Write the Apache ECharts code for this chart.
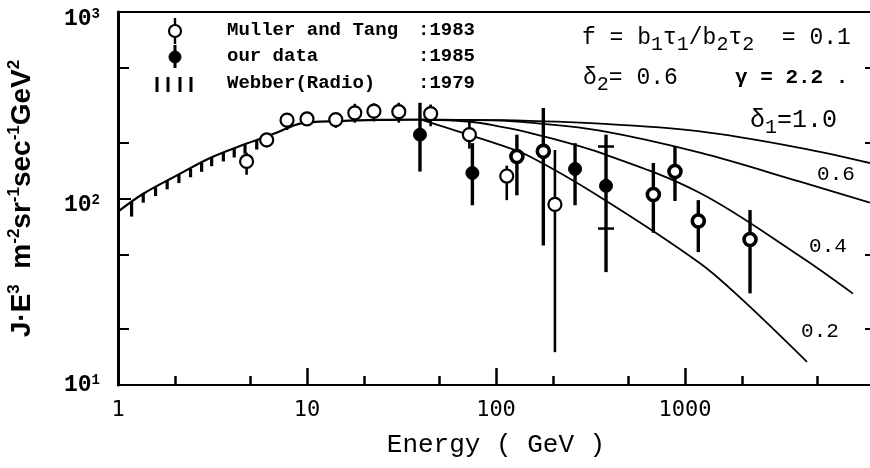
<!DOCTYPE html>
<html><head><meta charset="utf-8">
<script src="https://cdn.jsdelivr.net/npm/echarts@6/dist/echarts.min.js"></script>
<style>html,body{margin:0;padding:0;background:#fff}#c{width:870px;height:468px}</style>
</head><body><div id="c"></div>
<script>
// ---- axis ticks ----
const xMajor = [1, 10, 100, 1000, 10000];
const xMinor = [2, 5, 20, 50, 200, 500, 2000, 5000];
const xTickLabels = ['1', '10', '100', '1000', ''];
const yMajor = [10, 100, 1000];
const yMinor = [20, 50, 200, 500];
const yTickExp = ['1', '2', '3'];

// ---- model curves ----
const baseX = [1.0, 1.36, 2.05, 3.07, 4.6, 6.9, 9.2, 15, 24, 40];
const baseY = [85, 106, 133, 165, 194, 225, 252, 260, 264, 265];
const d10X = [40, 105, 355, 1200, 4060, 9520];
const d10Y = [265, 263, 252, 229, 187, 155];
const d06X = [40, 105, 151, 355, 1200, 4060, 9520];
const d06Y = [265, 262, 255, 231, 176, 123, 95];
const d04X = [40, 73, 105, 151, 355, 1200, 4060, 7740];
const d04Y = [265, 258, 243, 225, 176, 107, 49, 30.9];
const d02X = [40, 45, 105, 151, 355, 1200, 2030, 4420];
const d02Y = [265, 255, 194, 168, 102, 45, 28.4, 13.3];

// ---- Webber (Radio) 1979 hatch ----
const hatchX = [1.18, 1.36, 1.58, 1.82, 2.10, 2.42, 2.77, 3.13, 3.61, 4.12, 4.70, 5.42];
const hatchTop = [96, 106, 115, 125, 135, 145, 155, 166, 176, 185, 194, 204];
const hatchBottom = [80, 95, 103, 112, 121, 130, 139, 149, 158, 166, 174, 183];

// ---- Muller and Tang 1983 ----
const mullerX = [4.79, 6.12, 7.84, 10.0, 14.2, 17.9, 22.6, 30.6, 45.1, 72.3, 114, 205];
const mullerY = [158, 206, 263, 267, 265, 288, 294, 292, 285, 220, 132, 93];
const mullerLo = [134, 188, 233, 249, 239, 255, 259, 255, 244, 185, 98, 15];
const mullerHi = [176, 219, 280, 288, 287, 322, 324, 326, 319, 259, 150, 182];

// ---- our data 1985 ----
const ourSolidX = [39.6, 75, 262, 382];
const ourSolidY = [220, 137, 144, 117];
const ourSolidLo = [139.5, 92, 92, 40.3];
const ourSolidHi = [326, 198, 198, 220];
const ourRingX = [129, 178, 680, 885, 1176, 2208];
const ourRingY = [168, 179, 105, 139.5, 75.7, 60.3];
const ourRingLo = [104, 56, 65.5, 97, 51.6, 31];
const ourRingHi = [220, 306, 155, 190, 98, 86.7];
const capX = [382, 382];
const capY = [190, 69];

const zip2 = (a, b) => a.map((v, i) => [v, b[i]]);
const zip3 = (a, b, c) => a.map((v, i) => [v, b[i], c[i]]);

function vbar(width) {
  return function (params, api) {
    const p1 = api.coord([api.value(0), api.value(1)]);
    const p2 = api.coord([api.value(0), api.value(2)]);
    return { type: 'line', shape: { x1: p1[0], y1: p1[1], x2: p2[0], y2: p2[1] },
      style: { stroke: '#000', lineWidth: width } };
  };
}
function hcap(params, api) {
  const p = api.coord([api.value(0), api.value(1)]);
  return { type: 'line', shape: { x1: p[0] - 8, y1: p[1], x2: p[0] + 8, y2: p[1] },
    style: { stroke: '#000', lineWidth: 2.5 } };
}

const BLACK = '#000';
const tickLine = (w) => ({ color: BLACK, width: w });
const MONO = '"Liberation Mono", "DejaVu Sans Mono", monospace';
const SANS = '"Liberation Sans", Arial, sans-serif';

function lineSeries(name, xs, ys, w) {
  return { name, type: 'line', data: zip2(xs, ys), smooth: 0.35, showSymbol: false,
    lineStyle: { color: BLACK, width: w }, z: 2, silent: true };
}

const chart = echarts.init(document.getElementById('c'), null, { renderer: 'canvas' });
const option = {
  animation: false,
  backgroundColor: '#fff',
  grid: { left: 118, width: 756, top: 12, height: 373, containLabel: false, outerBoundsMode: 'none' },
  xAxis: [
    { type: 'log', min: 1, max: 10000, position: 'bottom',
      axisLine: { show: true, lineStyle: tickLine(2) },
      axisTick: { show: true, inside: true, length: 17, customValues: xMajor, lineStyle: tickLine(2.5) },
      axisLabel: { customValues: xMajor, margin: 14, color: BLACK, fontFamily: '"DejaVu Sans Mono", monospace', fontSize: 22,
        formatter: v => xTickLabels[Math.round(Math.log10(v))] },
      splitLine: { show: false },
      name: 'Energy ( GeV )', nameLocation: 'middle', nameGap: 47,
      nameTextStyle: { color: BLACK, fontFamily: MONO, fontSize: 26 } },
    { type: 'log', min: 1, max: 10000, position: 'bottom',
      axisLine: { show: false },
      axisTick: { show: true, inside: true, length: 9, customValues: xMinor, lineStyle: tickLine(2.5) },
      axisLabel: { show: false }, splitLine: { show: false } },
    { type: 'log', min: 1, max: 10000, position: 'top',
      axisLine: { show: true, lineStyle: tickLine(2) },
      axisTick: { show: false }, axisLabel: { show: false }, splitLine: { show: false } }
  ],
  yAxis: [
    { type: 'log', min: 10, max: 1000, position: 'left',
      axisLine: { show: true, lineStyle: tickLine(3) },
      axisTick: { show: true, inside: true, length: 13, customValues: yMajor, lineStyle: tickLine(2) },
      axisLabel: { customValues: yMajor, margin: 18, color: BLACK,
        formatter: v => {
          const e = yTickExp[Math.round(Math.log10(v)) - 1];
          return (e === '1' ? '' : '{e|}\n') + '{b|10}{s|' + e + '}';
        },
        rich: {
          e: { fontSize: 10, lineHeight: 14 },
          b: { fontFamily: MONO, fontSize: 23, fontWeight: 'bold', color: BLACK, lineHeight: 24 },
          s: { fontFamily: MONO, fontSize: 14, fontWeight: 'bold', color: BLACK, verticalAlign: 'top', lineHeight: 24 }
        } },
      splitLine: { show: false },
      name: '{m|J·E}{p|3}{m|  m}{p|-2}{m|sr}{p|-1}{m|sec}{p|-1}{m|GeV}{p|2}',
      nameLocation: 'middle', nameRotate: 90, nameGap: 80,
      nameTextStyle: { rich: {
        m: { fontFamily: SANS, fontWeight: 'bold', fontSize: 28, color: BLACK, lineHeight: 32 },
        p: { fontFamily: SANS, fontWeight: 'bold', fontSize: 17, color: BLACK, verticalAlign: 'top', lineHeight: 32 }
      } } },
    { type: 'log', min: 10, max: 1000, position: 'left',
      axisLine: { show: false },
      axisTick: { show: true, inside: true, length: 11, customValues: yMinor, lineStyle: tickLine(2) },
      axisLabel: { show: false }, splitLine: { show: false } },
    { type: 'log', min: 10, max: 1000, position: 'right',
      axisLine: { show: false },
      axisTick: { show: true, inside: true, length: 9, customValues: yMinor, lineStyle: tickLine(2) },
      axisLabel: { show: false }, splitLine: { show: false } }
  ],
  series: [
    lineSeries('model', baseX, baseY, 2.2),
    lineSeries('δ1=1.0', d10X, d10Y, 1.8),
    lineSeries('δ1=0.6', d06X, d06Y, 1.8),
    lineSeries('δ1=0.4', d04X, d04Y, 1.8),
    lineSeries('δ1=0.2', d02X, d02Y, 1.8),
    { name: 'Webber(Radio)', type: 'custom', renderItem: vbar(3.2), encode: { x: 0, y: [1, 2] },
      data: zip3(hatchX, hatchBottom, hatchTop), z: 3, silent: true },
    { name: 'Muller err', type: 'custom', renderItem: vbar(2.6), encode: { x: 0, y: [1, 2] },
      data: zip3(mullerX, mullerLo, mullerHi), z: 3, silent: true },
    { name: 'our err', type: 'custom', renderItem: vbar(3.4), encode: { x: 0, y: [1, 2] },
      data: zip3(ourSolidX.concat(ourRingX), ourSolidLo.concat(ourRingLo), ourSolidHi.concat(ourRingHi)), z: 3, silent: true },
    { name: 'caps', type: 'custom', renderItem: hcap, encode: { x: 0, y: 1 },
      data: zip2(capX, capY), z: 3, silent: true },
    { name: 'Muller and Tang', type: 'scatter', data: zip2(mullerX, mullerY), symbol: 'circle', symbolSize: 13,
      itemStyle: { color: '#fff', borderColor: BLACK, borderWidth: 2.2, opacity: 1 }, z: 4, silent: true },
    { name: 'our data', type: 'scatter', data: zip2(ourSolidX, ourSolidY), symbol: 'circle', symbolSize: 13,
      itemStyle: { color: BLACK, borderColor: BLACK, borderWidth: 1, opacity: 1 }, z: 4, silent: true },
    { name: 'our data ', type: 'scatter', data: zip2(ourRingX, ourRingY), symbol: 'circle', symbolSize: 12,
      itemStyle: { color: '#fff', borderColor: BLACK, borderWidth: 3.6, opacity: 1 }, z: 4, silent: true }
  ],
  graphic: [
    // legend symbols
    { type: 'line', shape: { x1: 175, y1: 18, x2: 175, y2: 44 }, style: { stroke: BLACK, lineWidth: 2.4 }, z: 10 },
    { type: 'circle', shape: { cx: 175, cy: 31, r: 6 }, style: { fill: '#fff', stroke: BLACK, lineWidth: 2.2 }, z: 11 },
    { type: 'line', shape: { x1: 175, y1: 45, x2: 175, y2: 68 }, style: { stroke: BLACK, lineWidth: 3 }, z: 10 },
    { type: 'circle', shape: { cx: 175, cy: 57, r: 6 }, style: { fill: BLACK, stroke: BLACK, lineWidth: 1 }, z: 11 },
    { type: 'line', shape: { x1: 157, y1: 77, x2: 157, y2: 92 }, style: { stroke: BLACK, lineWidth: 3 }, z: 10 },
    { type: 'line', shape: { x1: 168, y1: 77, x2: 168, y2: 92 }, style: { stroke: BLACK, lineWidth: 3 }, z: 10 },
    { type: 'line', shape: { x1: 180, y1: 77, x2: 180, y2: 92 }, style: { stroke: BLACK, lineWidth: 3 }, z: 10 },
    { type: 'line', shape: { x1: 191, y1: 77, x2: 191, y2: 92 }, style: { stroke: BLACK, lineWidth: 3 }, z: 10 },
    // legend text
    { type: 'text', x: 227, y: 30, style: { text: 'Muller and Tang', font: 'bold 19px ' + MONO, fill: BLACK, textVerticalAlign: 'middle' } },
    { type: 'text', x: 418, y: 30, style: { text: ':1983', font: 'bold 19px ' + MONO, fill: BLACK, textVerticalAlign: 'middle' } },
    { type: 'text', x: 227, y: 56, style: { text: 'our data', font: 'bold 19px ' + MONO, fill: BLACK, textVerticalAlign: 'middle' } },
    { type: 'text', x: 418, y: 56, style: { text: ':1985', font: 'bold 19px ' + MONO, fill: BLACK, textVerticalAlign: 'middle' } },
    { type: 'text', x: 227, y: 83, style: { text: 'Webber(Radio)', font: 'bold 19px ' + MONO, fill: BLACK, textVerticalAlign: 'middle' } },
    { type: 'text', x: 418, y: 83, style: { text: ':1979', font: 'bold 19px ' + MONO, fill: BLACK, textVerticalAlign: 'middle' } },
    // parameters
    { type: 'text', x: 582, y: 38, style: { text: 'f = b{s|1}τ{s|1}/b{s|2}τ{s|2}  = 0.1', font: '23px ' + MONO, fill: BLACK, textVerticalAlign: 'middle',
      rich: { s: { font: '20px ' + MONO, fill: BLACK, verticalAlign: 'bottom', lineHeight: 34 } }, lineHeight: 34 } },
    { type: 'text', x: 583, y: 78, style: { text: 'δ{s|2}= 0.6', font: '23px ' + MONO, fill: BLACK, textVerticalAlign: 'middle',
      rich: { s: { font: '20px ' + MONO, fill: BLACK, verticalAlign: 'bottom', lineHeight: 34 } }, lineHeight: 34 } },
    { type: 'text', x: 735, y: 78, style: { text: 'γ = 2.2 .', font: 'bold 21px ' + MONO, fill: BLACK, textVerticalAlign: 'middle' } },
    { type: 'text', x: 750, y: 120, style: { text: 'δ{s|1}=1.0', font: '25px ' + MONO, fill: BLACK, textVerticalAlign: 'middle',
      rich: { s: { font: '20px ' + MONO, fill: BLACK, verticalAlign: 'bottom', lineHeight: 36 } }, lineHeight: 36 } },
    { type: 'text', x: 836, y: 174, style: { text: '0.6', font: '21px ' + MONO, fill: BLACK, textAlign: 'center', textVerticalAlign: 'middle' } },
    { type: 'text', x: 828, y: 246, style: { text: '0.4', font: '21px ' + MONO, fill: BLACK, textAlign: 'center', textVerticalAlign: 'middle' } },
    { type: 'text', x: 820, y: 331, style: { text: '0.2', font: '21px ' + MONO, fill: BLACK, textAlign: 'center', textVerticalAlign: 'middle' } }
  ]
};
chart.setOption(option);
</script>
</body></html>
